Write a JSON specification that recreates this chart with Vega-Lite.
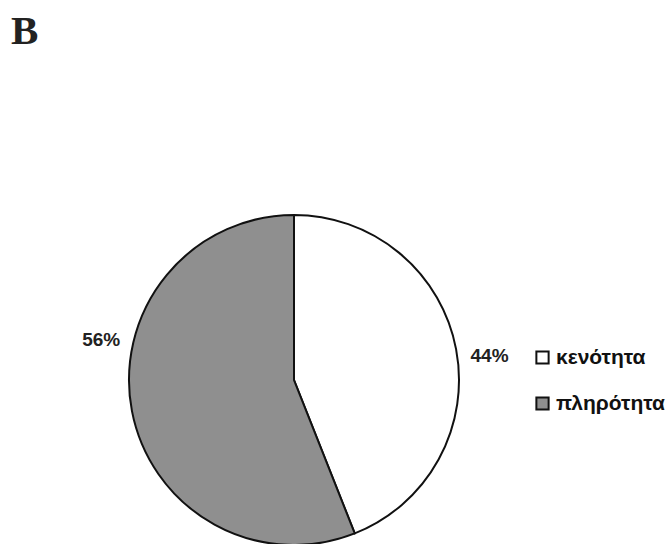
{
  "$schema": "https://vega.github.io/schema/vega-lite/v6.json",
  "autosize": "none",
  "width": 588,
  "height": 328,
  "padding": {"left": 0, "top": 216, "right": 78, "bottom": 0},
  "background": "white",
  "title": {
    "text": "B",
    "anchor": "start",
    "frame": "group",
    "font": "Liberation Serif",
    "fontSize": 41,
    "fontWeight": "bold",
    "color": "#222",
    "offset": 158,
    "dx": 11
  },
  "data": {
    "values": [
      {"category": "κενότητα", "value": 44, "label": "44%", "order": 1},
      {"category": "πληρότητα", "value": 56, "label": "56%", "order": 2}
    ]
  },
  "transform": [
    {"stack": "value", "groupby": [], "sort": [{"field": "order"}], "as": ["v0", "v1"]}
  ],
  "encoding": {
    "theta": {"field": "v0", "type": "quantitative", "scale": {"domain": [0, 100]}}
  },
  "layer": [
    {
      "mark": {"type": "arc", "outerRadius": 165, "stroke": "#111", "strokeWidth": 2},
      "encoding": {
        "theta2": {"field": "v1"},
        "color": {
          "field": "category",
          "type": "nominal",
          "sort": ["κενότητα", "πληρότητα"],
          "scale": {"domain": ["κενότητα", "πληρότητα"], "range": ["#ffffff", "#8f8f8f"]},
          "legend": {
            "title": null,
            "orient": "none",
            "legendX": 532,
            "legendY": 131,
            "padding": 0,
            "symbolType": "square",
            "symbolSize": 150,
            "symbolStrokeColor": "#111",
            "symbolStrokeWidth": 2,
            "symbolOpacity": 1,
            "labelFont": "Liberation Sans",
            "labelFontSize": 21,
            "labelFontWeight": "bold",
            "labelColor": "#111",
            "labelOffset": 3,
            "rowPadding": 24,
            "labelLimit": 300
          }
        }
      }
    },
    {
      "transform": [{"filter": "datum.category == 'κενότητα'"}],
      "mark": {"type": "text", "radius": 197, "thetaOffset": 1.449, "font": "Liberation Sans", "fontSize": 19, "fontWeight": "bold", "color": "#222", "align": "center", "baseline": "middle"},
      "encoding": {"text": {"field": "label"}}
    },
    {
      "transform": [{"filter": "datum.category == 'πληρότητα'"}],
      "mark": {"type": "text", "radius": 197, "thetaOffset": 2.154, "font": "Liberation Sans", "fontSize": 19, "fontWeight": "bold", "color": "#222", "align": "center", "baseline": "middle"},
      "encoding": {"text": {"field": "label"}}
    }
  ],
  "config": {"view": {"stroke": null}}
}
